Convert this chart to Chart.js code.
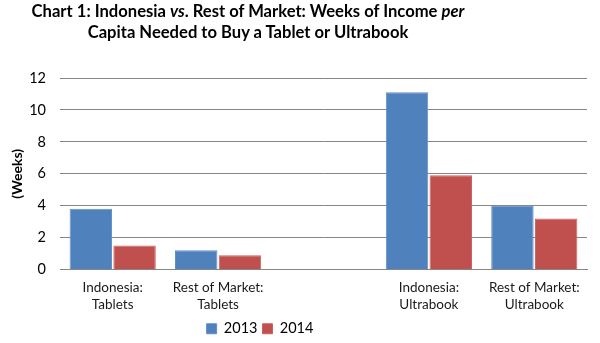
<!DOCTYPE html>
<html>
<head>
<meta charset="utf-8">
<script src="https://cdn.jsdelivr.net/npm/chart.js@4.4.1/dist/chart.umd.min.js"></script>
<style>
  html, body { margin: 0; padding: 0; background: #fff; }
  #wrap { position: relative; width: 600px; height: 343px; }
  #title { position: absolute; left: 0; top: 1px; width: 496px; text-align: center;
           font-family: Lato, 'Open Sans', sans-serif; font-weight: bold; font-size: 16.6px;
           line-height: 21px; color: #000; }
  canvas { position: absolute; left: 0; top: 0; }
</style>
</head>
<body>
<div id="wrap">
  <canvas id="c" width="600" height="343"></canvas>
  <div id="title">Chart 1: Indonesia <i>vs</i>. Rest of Market: Weeks of Income <i>per</i><br>Capita Needed to Buy a Tablet or Ultrabook</div>
</div>
<script>
const categories = [['Indonesia:', 'Tablets'], ['Rest of Market:', 'Tablets'], '', ['Indonesia:', 'Ultrabook'], ['Rest of Market:', 'Ultrabook']];
const seriesNames = ['2013', '2014'];
const values2013 = [3.8, 1.2, null, 11.1, 4.0];
const values2014 = [1.5, 0.9, null, 5.9, 3.2];
const yTicks = [0, 2, 4, 6, 8, 10, 12];

const FONT = "Lato, 'Open Sans', sans-serif";

const shiftLegend = {
  id: 'shiftLegend',
  afterLayout(chart) {
    const lg = chart.legend;
    if (lg) { lg.left -= 36; lg.right -= 36; lg.top += 3; lg.bottom += 3; }
  }
};

new Chart(document.getElementById('c'), {
  type: 'bar',
  data: {
    labels: categories,
    datasets: [
      { label: seriesNames[0], data: values2013, backgroundColor: '#4F81BD', borderColor: '#5f8fc8', borderWidth: 1 },
      { label: seriesNames[1], data: values2014, backgroundColor: '#C0504D', borderColor: '#cc605d', borderWidth: 1 }
    ]
  },
  options: {
    responsive: false,
    animation: false,
    layout: { padding: { left: 5, right: 13, top: 78, bottom: 0 } },
    datasets: { bar: { categoryPercentage: 0.83, barPercentage: 0.97 } },
    scales: {
      x: {
        grid: { display: false, drawTicks: false },
        border: { display: true, color: '#868686', width: 1 },
        ticks: { font: { family: FONT, size: 13.5, lineHeight: 1.3 }, color: '#1a1a1a', padding: 9, maxRotation: 0, autoSkip: false },
        afterFit(s) { s.height = 44; }
      },
      y: {
        min: 0, max: 12,
        afterBuildTicks(s) { s.ticks = yTicks.map(v => ({ value: v })); },
        grid: { color: '#868686', drawTicks: false },
        border: { display: false },
        ticks: { font: { family: FONT, size: 14.5 }, color: '#000', padding: 14 },
        title: { display: true, text: '(Weeks)', font: { family: FONT, size: 14, weight: 'bold' }, color: '#000', padding: { top: 4, bottom: 4 } },
        afterFit(s) { s.width = 55; }
      }
    },
    plugins: {
      legend: {
        position: 'bottom',
        labels: { font: { family: FONT, size: 14.5 }, color: '#000', boxWidth: 10, boxHeight: 10, padding: 5 }
      },
      title: { display: false },
      tooltip: { enabled: false }
    }
  },
  plugins: [shiftLegend]
});
</script>
</body>
</html>
